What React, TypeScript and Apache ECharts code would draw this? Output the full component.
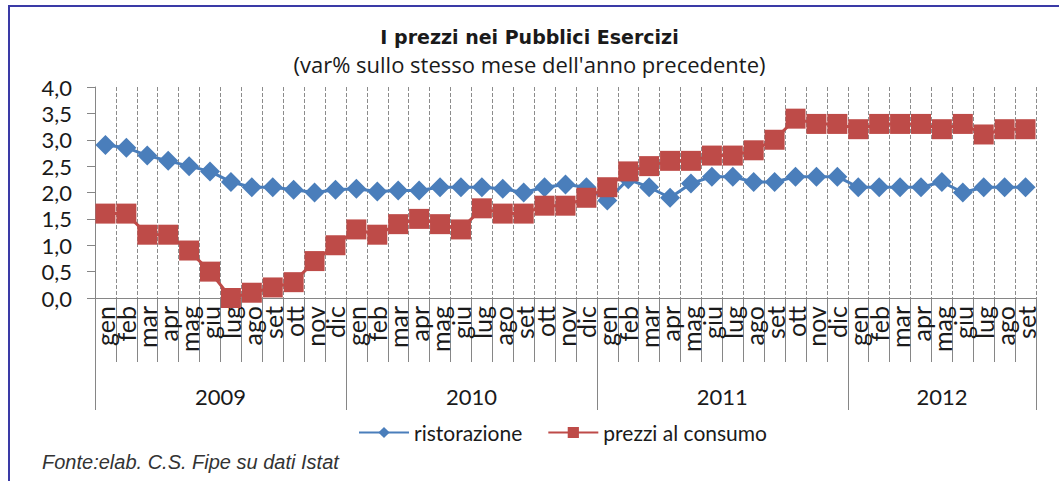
import React, { useEffect, useRef } from "react";
import * as echarts from "echarts";

const years = ["2009", "2010", "2011", "2012"];
const monthsPerYear = [12, 12, 12, 9];
const monthNames = ["gen", "feb", "mar", "apr", "mag", "giu", "lug", "ago", "set", "ott", "nov", "dic"];

const ristorazione = [
  2.9, 2.85, 2.7, 2.6, 2.5, 2.4, 2.2, 2.1, 2.1, 2.05, 2.0, 2.05,
  2.07, 2.02, 2.04, 2.04, 2.1, 2.1, 2.1, 2.07, 2.0, 2.1, 2.15, 2.1,
  1.85, 2.25, 2.1, 1.9, 2.17, 2.3, 2.3, 2.2, 2.2, 2.3, 2.3, 2.3,
  2.1, 2.1, 2.1, 2.1, 2.2, 2.0, 2.1, 2.1, 2.1,
];
const prezziAlConsumo = [
  1.6, 1.6, 1.2, 1.2, 0.9, 0.5, 0.0, 0.1, 0.2, 0.3, 0.7, 1.0,
  1.3, 1.2, 1.4, 1.5, 1.4, 1.3, 1.7, 1.6, 1.6, 1.75, 1.75, 1.9,
  2.1, 2.4, 2.5, 2.6, 2.6, 2.7, 2.7, 2.8, 3.0, 3.4, 3.3, 3.3,
  3.2, 3.3, 3.3, 3.3, 3.2, 3.3, 3.1, 3.2, 3.2,
];

const categories: string[] = [];
monthsPerYear.forEach((n) => {
  for (let i = 0; i < n; i++) categories.push(monthNames[i]);
});
const yearBounds: number[] = [0];
monthsPerYear.forEach((n) => yearBounds.push(yearBounds[yearBounds.length - 1] + n));
const yearCenters = years.map((_, i) => (yearBounds[i] + yearBounds[i + 1]) / 2);

const FONT = "Lato";
const AXIS_COLOR = "#868686";
const TEXT_COLOR = "#1a1a1a";

export default function App() {
  const ref = useRef<HTMLDivElement>(null);
  useEffect(() => {
    if (!ref.current) return;
    const chart = echarts.init(ref.current, null, { renderer: "svg" });
    chart.setOption({
      animation: false,
      backgroundColor: "#ffffff",
      title: [
        {
          text: "I prezzi nei Pubblici Esercizi",
          left: "center",
          top: 27,
          padding: 0,
          textStyle: { fontFamily: "DejaVu Sans", fontSize: 19, lineHeight: 20, fontWeight: "bold", color: TEXT_COLOR },
        },
        {
          text: "(var% sullo stesso mese dell'anno precedente)",
          left: "center",
          top: 53,
          padding: 0,
          textStyle: { fontFamily: "Open Sans", fontSize: 22, lineHeight: 22, fontWeight: "normal", color: TEXT_COLOR },
        },
      ],
      grid: { left: 95, right: 23, top: 87, bottom: 183, containLabel: false },
      legend: {
        top: 417,
        left: 353,
        itemWidth: 50,
        itemHeight: 14,
        itemGap: 25,
        textStyle: { fontFamily: FONT, fontSize: 21, color: TEXT_COLOR },
        data: ["ristorazione", "prezzi al consumo"],
      },
      xAxis: [
        {
          type: "category",
          data: categories,
          boundaryGap: true,
          axisLine: { show: true, lineStyle: { color: AXIS_COLOR, width: 1 } },
          axisTick: { show: true, interval: 0, length: 64, lineStyle: { color: AXIS_COLOR } },
          axisLabel: {
            interval: 0,
            rotate: 90,
            margin: 8,
            fontFamily: FONT,
            fontSize: 25,
            color: TEXT_COLOR,
            hideOverlap: false,
          },
          splitLine: { show: true, interval: 0, lineStyle: { color: "#8c8c8c", type: "dashed", width: 1 } },
        },
        {
          type: "value",
          min: 0,
          max: yearBounds[yearBounds.length - 1],
          position: "bottom",
          axisLine: { show: false },
          axisTick: { show: true, length: 112, customValues: yearBounds, lineStyle: { color: AXIS_COLOR } },
          axisLabel: {
            show: true,
            customValues: yearCenters,
            margin: 87,
            fontFamily: FONT,
            fontSize: 22,
            color: TEXT_COLOR,
            formatter: (v: number) => {
              const idx = yearCenters.findIndex((c) => Math.abs(c - v) < 1e-6);
              return idx >= 0 ? years[idx] : "";
            },
          },
          splitLine: { show: false },
        },
      ],
      yAxis: {
        type: "value",
        min: 0,
        max: 4,
        interval: 0.5,
        axisLine: { show: true, lineStyle: { color: AXIS_COLOR, width: 1 } },
        axisTick: { show: true, length: 8, lineStyle: { color: AXIS_COLOR } },
        axisLabel: {
          margin: 23,
          fontFamily: FONT,
          fontSize: 22,
          color: TEXT_COLOR,
          formatter: (v: number) => v.toFixed(1).replace(".", ","),
        },
        splitLine: { show: false },
      },
      series: [
        {
          name: "ristorazione",
          type: "line",
          xAxisIndex: 0,
          data: ristorazione,
          symbol: "diamond",
          symbolSize: 20,
          lineStyle: { color: "#4A7EBB", width: 3 },
          itemStyle: { color: "#4A7EBB" },
        },
        {
          name: "prezzi al consumo",
          type: "line",
          xAxisIndex: 0,
          data: prezziAlConsumo,
          symbol: "rect",
          symbolSize: 20,
          lineStyle: { color: "#BE4B48", width: 3 },
          itemStyle: { color: "#BE4B48" },
        },
      ],
      graphic: [
        { type: "line", shape: { x1: 8, y1: 6, x2: 1059, y2: 6 }, style: { stroke: "#3a3aa6", lineWidth: 2 } },
        { type: "line", shape: { x1: 9, y1: 5, x2: 9, y2: 481 }, style: { stroke: "#3a3aa6", lineWidth: 2 } },
        {
          type: "text",
          left: 42,
          top: 452,
          style: {
            text: "Fonte:elab. C.S. Fipe su dati Istat",
            fontFamily: "Liberation Sans",
            fontStyle: "italic",
            fontSize: 20,
            fill: "#333333",
          },
        },
      ],
    });
    return () => chart.dispose();
  }, []);
  return <div ref={ref} style={{ position: "fixed", left: 0, top: 0, width: 1059, height: 481 }} />;
}
